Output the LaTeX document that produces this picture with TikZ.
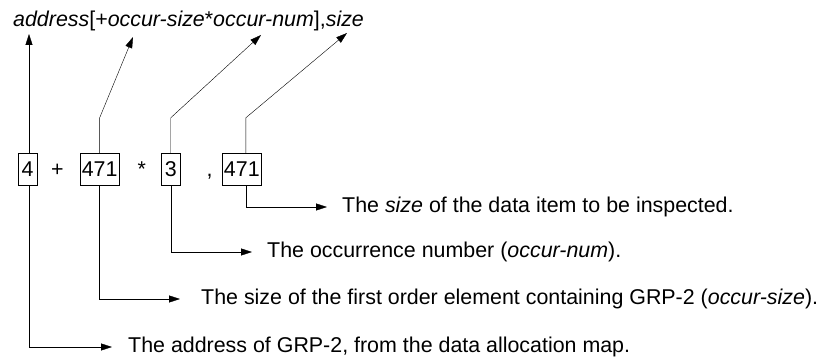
\documentclass[tikz,border=0pt]{standalone}
\usepackage{fontspec}
\setmainfont{Liberation Sans}
\usepackage{tikz}
\usetikzlibrary{arrows.meta,calc,positioning}
\tikzset{
    -{Triangle[length=11pt,width=7pt]},line width=0.9pt,
    box/.style ={rectangle, draw, minimum width=19pt, minimum height=32pt, inner xsep=2pt, inner ysep=0pt},
    op/.style = {inner sep=0pt},
    desc/.style = {anchor=west, inner xsep=15pt, inner ysep=0pt}
}
\begin{document}
\begin{tikzpicture}[x=1pt,y=1pt,font=\fontsize{21.4}{26}\selectfont]
	\useasboundingbox (0,0) rectangle (819,358);
	\node[inner sep=0pt,anchor=base west] (top) at (13,331) {\textit{address}[+\textit{occur-size}*\textit{occur-num}],\textit{size}};
	\node[box] (1) at (27.5,189) {4};
	\node[op, base right=13.8pt of 1] (plus) {+};
	\node[box, base right=15.7pt of plus] (2) {471};
	\node[op, base right=17.8pt of 2] (star) {*};
	\node[box, base right=14.8pt of star] (3) {3};
	\node[op, base right=26pt of 3] (comma) {,};
	\node[box, base right=9pt of comma] (4) {471};
	%tips under the top line
	\coordinate (t1) at (29,324);
	\coordinate (t2) at (133,321);
	\coordinate (t3) at (261,323);
	\coordinate (t4) at (347,325);
	\draw ([xshift=1.5pt]1.north) -- (t1);
	\draw (2.north) -- ++(0,35) -- (t2);
	\draw (3.north) -- ++(0,35) -- (t3);
	\draw ([xshift=4pt]4.north) -- ++(0,35) -- (t4);
	\node[desc] (d4) at (327,151) {The \textit{size} of the data item to be inspected.};
	\node[desc] (d3) at (252,106) {The occurrence number (\textit{occur-num}).};
	\node[desc, inner xsep=21pt] (d2) at (180,59) {The size of the first order element containing GRP-2 (\textit{occur-size}).};
	\node[desc, inner xsep=16pt] (d1) at (112,11) {The address of GRP-2, from the data allocation map.};
	\draw ([xshift=1.5pt]1.south) |- (d1.west);
	\draw (2.south) |- (d2.west);
	\draw (3.south) |- (d3.west);
	\draw ([xshift=4pt]4.south) |- (d4.west);
\end{tikzpicture}
\end{document}
